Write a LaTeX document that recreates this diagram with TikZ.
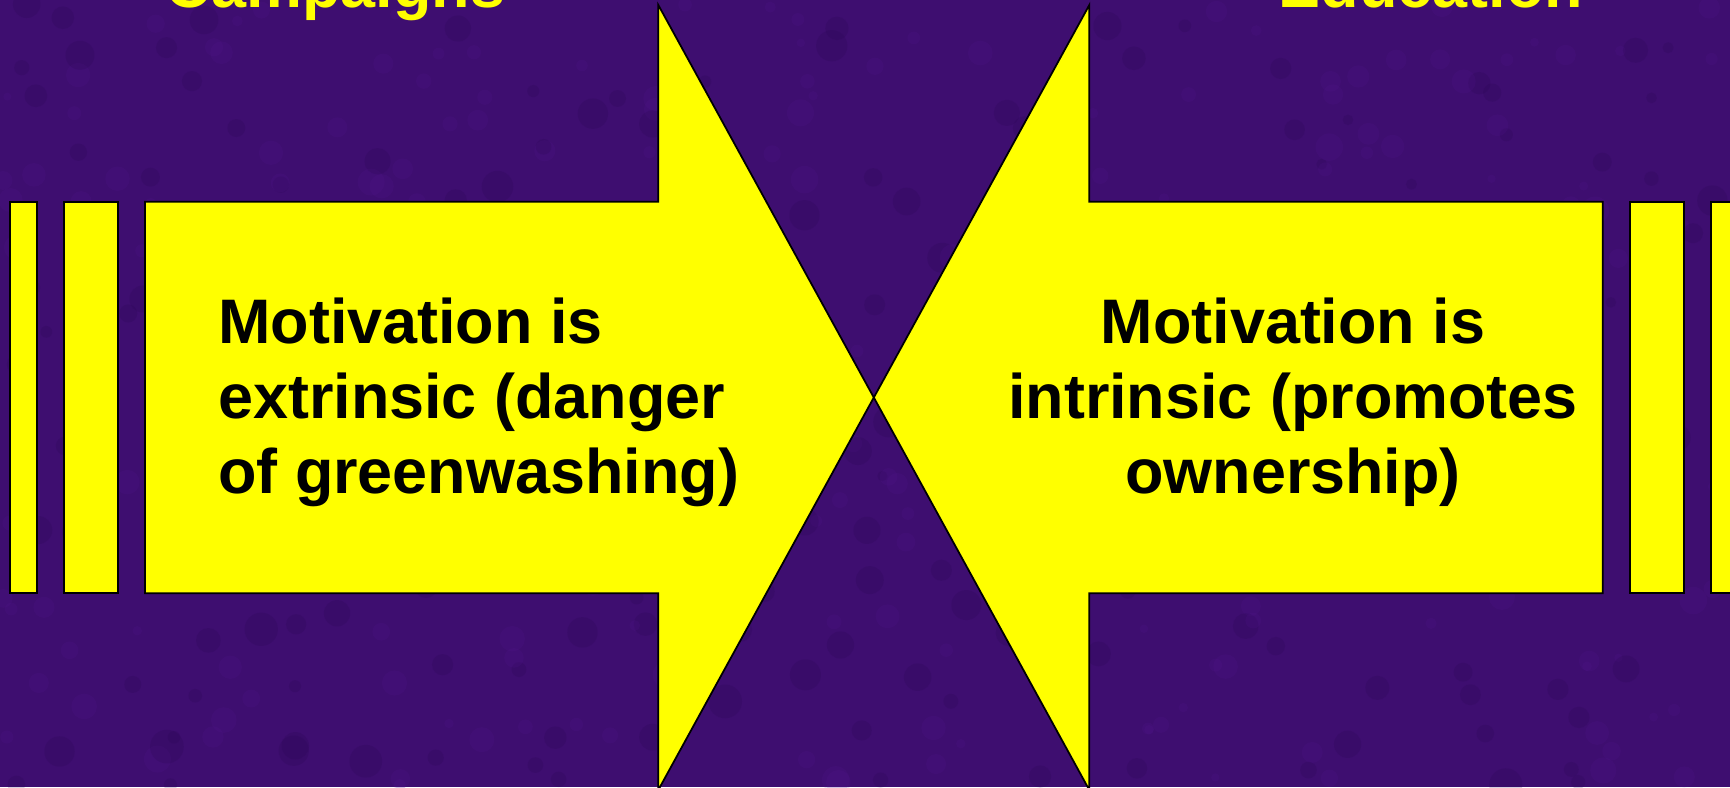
\documentclass[tikz,border=0pt]{standalone}
\usepackage{fontspec}
\setmainfont{Liberation Sans}
\definecolor{FondoMorado}{RGB}{62,14,112}
\definecolor{MoradoOscuro}{RGB}{38,6,78}
\definecolor{MoradoClaro}{RGB}{88,24,150}
\definecolor{AmarilloPuro}{RGB}{255,255,0}

\begin{document}
\begin{tikzpicture}[font=\bfseries\fontsize{17.9}{21.3}\selectfont,
	bloque/.style={draw=black, line width=0.5pt, fill=AmarilloPuro, line join=miter},
	titulo/.style={text=AmarilloPuro, anchor=base, inner sep=0pt}]
	% fondo
	\useasboundingbox (0,0) rectangle (17.30,7.87);
	\clip (0,0) rectangle (17.30,7.87);
	\fill[FondoMorado] (0,0) rectangle (17.30,7.87);
	\pgfmathsetseed{11}
	\foreach \i in {1,...,260}{
		\fill[MoradoOscuro, opacity=0.18] (17.3*rnd,7.87*rnd) circle (0.05+0.12*rnd);
		\fill[MoradoClaro, opacity=0.14] (17.3*rnd,7.87*rnd) circle (0.04+0.10*rnd);
	}

	% barras laterales
	\foreach \xa/\xb in {0.10/0.367, 0.643/1.183, 16.297/16.837, 17.113/17.38}{
		\draw[bloque] (\xa,1.937) rectangle (\xb,5.853);
	}

	% flechas enfrentadas
	\draw[bloque] (1.45,1.937) -- (6.583,1.937) -- (6.583,-0.03) -- (8.738,3.895)
		-- (6.583,7.82) -- (6.583,5.853) -- (1.45,5.853) -- cycle;
	\draw[bloque] (16.027,1.937) -- (10.893,1.937) -- (10.893,-0.03) -- (8.738,3.895)
		-- (10.893,7.82) -- (10.893,5.853) -- (16.027,5.853) -- cycle;

	% titulos
	\node[titulo] (campanas) at (3.355,7.80) {Campaigns};
	\node[titulo] (educacion) at (14.31,7.80) {Education};

	% textos
	\node[anchor=west, align=left, inner sep=0pt] (extrinseca) at (2.175,3.85)
		{Motivation is\\extrinsic (danger\\of greenwashing)};
	\node[align=center, inner sep=0pt] (intrinseca) at (12.93,3.85)
		{Motivation is\\intrinsic (promotes\\ownership)};
\end{tikzpicture}
\end{document}
